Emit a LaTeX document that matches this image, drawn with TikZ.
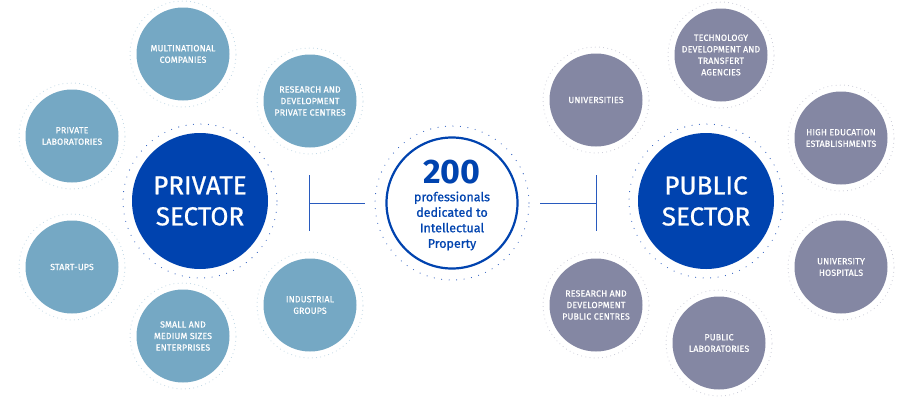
\documentclass[tikz,border=0pt]{standalone}
\usepackage{fontspec}
\setmainfont{Fira Sans}
\newfontfamily\capsfont[LetterSpace=2,FakeBold=0.8]{Fira Sans}
\newfontfamily\medfont[FakeBold=0.8]{Fira Sans}
\newfontfamily\bigfont[FakeBold=1.2]{Fira Sans}
\definecolor{privcol}{RGB}{117,168,196}
\definecolor{pubcol}{RGB}{132,135,163}
\definecolor{sectcol}{RGB}{0,67,175}
\definecolor{privring}{RGB}{185,210,226}
\definecolor{pubring}{RGB}{196,197,210}
\definecolor{ringblue}{RGB}{40,90,190}
\tikzset{
  smallc/.style={circle, minimum size=93pt, inner sep=0pt, text=white, align=center,
    font=\capsfont\fontsize{8.8}{11.5}\selectfont},
  privc/.style={smallc, fill=privcol},
  pubc/.style={smallc, fill=pubcol},
  sectc/.style={circle, minimum size=136pt, inner sep=0pt, fill=sectcol, text=white, align=center,
    font=\medfont\fontsize{26}{31}\selectfont},
  lightring/.style={line width=1pt, line cap=round, dash pattern=on 0pt off 4.2pt},
  bluering/.style={ringblue, line width=1.1pt, line cap=round, dash pattern=on 0pt off 7.5pt},
  bracket/.style={draw=ringblue, line width=1pt}
}
\begin{document}
\begin{tikzpicture}[x=1pt,y=-1pt]
\useasboundingbox[fill=white] (0,0) rectangle (905,405);
% private side
\node[privc] (mn) at (183,54) {MULTINATIONAL\\COMPANIES};
\node[privc] (rdpriv) at (310,101) {RESEARCH AND\\DEVELOPMENT\\PRIVATE CENTRES};
\node[privc] (plab) at (72,136) {PRIVATE\\LABORATORIES};
\node[privc] (start) at (72,267) {START-UPS};
\node[privc] (sme) at (183,336) {SMALL AND\\MEDIUM SIZES\\ENTERPRISES};
\node[privc] (ind) at (310,305) {INDUSTRIAL\\GROUPS};
\node[sectc] (priv) at (200,201) {PRIVATE\\SECTOR};
% public side
\node[pubc] (univ) at (596,100) {UNIVERSITIES};
\node[pubc] (tech) at (721,55) {TECHNOLOGY\\DEVELOPMENT AND\\TRANSFERT\\AGENCIES};
\node[pubc] (high) at (841,138) {HIGH EDUCATION\\ESTABLISHMENTS};
\node[pubc] (hosp) at (841,267) {UNIVERSITY\\HOSPITALS};
\node[pubc] (rdpub) at (596,305) {RESEARCH AND\\DEVELOPMENT\\PUBLIC CENTRES};
\node[pubc] (plabp) at (719,343) {PUBLIC\\LABORATORIES};
\node[sectc] (pub) at (706,201) {PUBLIC\\SECTOR};
% centre
\node[circle, minimum size=131pt, inner sep=0pt, draw=sectcol, line width=2.2pt, text=sectcol, align=center] (ctr) at (452,203) {};
\node[text=sectcol, align=center, anchor=center] (num) at (452,172) {\fontsize{34}{34}\selectfont\bfseries 200};
\node[text=sectcol, align=center, anchor=north, font=\medfont\fontsize{12.5}{15.5}\selectfont] (txt) at (452,188) {professionals\\dedicated to\\Intellectual\\Property};
% rings
\foreach \n in {mn,rdpriv,plab,start,sme,ind}{
  \draw[lightring, privring] (\n.center) circle (53pt);
}
\foreach \n in {univ,tech,high,hosp,rdpub,plabp}{
  \draw[lightring, pubring] (\n.center) circle (53pt);
}
\foreach \n in {priv,pub,ctr}{
  \draw[bluering] (\n.center) circle (77pt);
}
% brackets
\coordinate (lt) at (309,175);
\coordinate (lb) at (309,231);
\coordinate (lm) at (309,203);
\coordinate (le) at (365,203);
\coordinate (rt) at (596,175);
\coordinate (rb) at (596,231);
\coordinate (rm) at (596,203);
\coordinate (re) at (540,203);
\draw[bracket] (lt) -- (lb);
\draw[bracket] (lm) -- (le);
\draw[bracket] (rt) -- (rb);
\draw[bracket] (rm) -- (re);
\end{tikzpicture}
\end{document}
